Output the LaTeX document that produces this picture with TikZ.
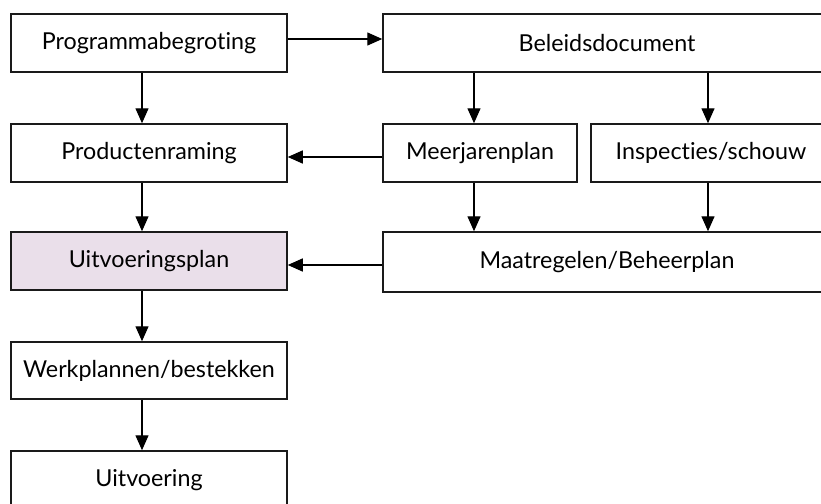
\documentclass[tikz,border=0pt]{standalone}
\usepackage{fontspec}
\setmainfont{Lato}[Ligatures={NoCommon,NoRare,NoDiscretionary}]
\usetikzlibrary{arrows.meta}
\definecolor{pinkfill}{HTML}{EADFEA}
\definecolor{edge}{HTML}{1A1A1A}
\begin{document}
\begin{tikzpicture}[x=1pt,y=-1pt,
  box/.style={draw=edge,line width=1.5pt,inner sep=0pt,font=\fontsize{23.3}{27}\selectfont,text=black},
  conn/.style={line width=1.4pt,-{Triangle[length=15pt,width=13pt]}}]
\useasboundingbox (0,0) rectangle (821,503);
\clip (0,0) rectangle (821,503);
\node[box,minimum width=276pt,minimum height=58pt] (prog) at (149,43) {Programmabegroting};
\node[box,minimum width=448pt,minimum height=58pt] (bel) at (607,43) {Beleidsdocument};
\node[box,minimum width=276pt,minimum height=58pt] (prod) at (149,153) {Productenraming};
\node[box,minimum width=194pt,minimum height=58pt] (meer) at (480,153) {Meerjarenplan};
\node[box,minimum width=240pt,minimum height=58pt] (insp) at (711,153) {Inspecties/schouw};
\node[box,fill=pinkfill,minimum width=276pt,minimum height=58pt] (upl) at (149,261) {Uitvoeringsplan};
\node[box,minimum width=448pt,minimum height=60pt] (maat) at (607,262) {Maatregelen/Beheerplan};
\node[box,minimum width=276pt,minimum height=57pt] (werk) at (149,370.5) {Werkplannen/bestekken};
\node[box,minimum width=276pt,minimum height=58pt] (uitv) at (149,480) {Uitvoering};
% connectors
\draw[conn] ([yshift=4pt]prog.east) -- ([yshift=4pt]prog.east -| bel.west);
\draw[conn] ([xshift=-7pt]prog.south) -- ([xshift=-7pt]prod.north);
\draw[conn] (bel.south -| 474,0) -- (meer.north -| 474,0);
\draw[conn] (bel.south -| 708,0) -- (insp.north -| 708,0);
\draw[conn] ([yshift=-4pt]meer.west) -- ([yshift=-4pt]meer.west -| prod.east);
\draw[conn] (meer.south -| 474,0) -- (maat.north -| 474,0);
\draw[conn] (insp.south -| 708,0) -- (maat.north -| 708,0);
\draw[conn] ([xshift=-7pt]prod.south) -- ([xshift=-7pt]upl.north);
\draw[conn] (maat.west |- 0,265) -- (upl.east |- 0,265);
\draw[conn] ([xshift=-7pt]upl.south) -- ([xshift=-7pt]werk.north);
\draw[conn] ([xshift=-7pt]werk.south) -- ([xshift=-7pt]uitv.north);
\end{tikzpicture}
\end{document}
